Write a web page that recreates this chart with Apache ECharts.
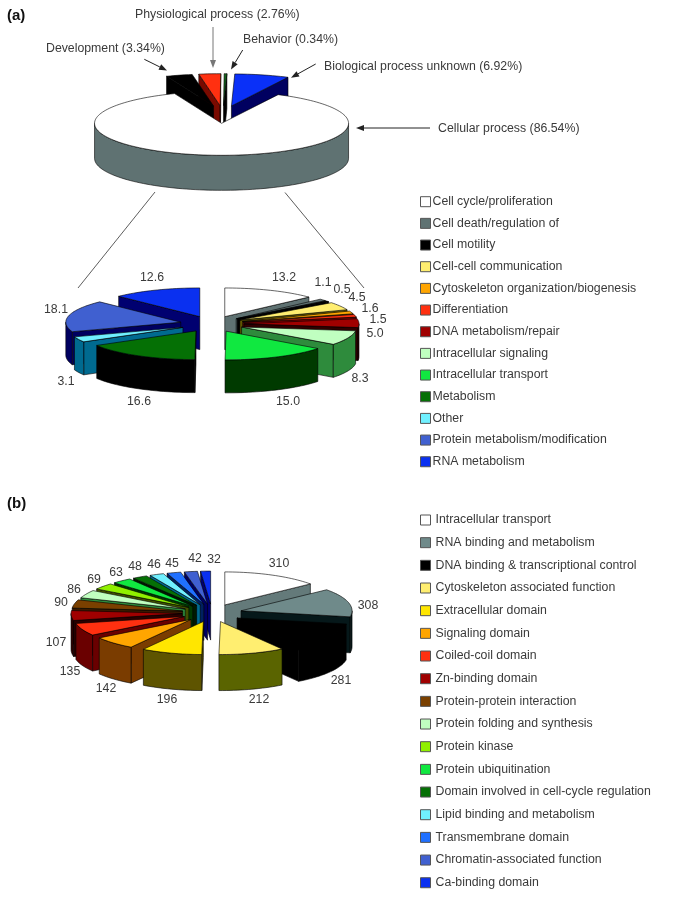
<!DOCTYPE html>
<html><head><meta charset="utf-8">
<style>html,body{margin:0;padding:0;background:#fff}#c{width:685px;height:897px}</style>
<script src="https://cdn.jsdelivr.net/npm/echarts@6/dist/echarts.min.js"></script>
</head><body><div id="c"></div>
<script>
// ---- data ----
const processNames = ['Biological process unknown','Cellular process','Development','Physiological process','Behavior'];
const processValues = [6.92,86.54,3.34,2.76,0.34];

const cellularNames = ['Cell cycle/proliferation','Cell death/regulation of','Cell motility','Cell-cell communication','Cytoskeleton organization/biogenesis','Differentiation','DNA metabolism/repair','Intracellular signaling','Intracellular transport','Metabolism','Other','Protein metabolism/modification','RNA metabolism'];
const cellularValues = [13.2,1.1,0.5,4.5,1.6,1.5,5.0,8.3,15.0,16.6,3.1,18.1,12.6];

const domainNames = ['Intracellular transport','RNA binding and metabolism','DNA binding & transcriptional control','Cytoskeleton associated function','Extracellular domain','Signaling domain','Coiled-coil domain','Zn-binding domain','Protein-protein interaction','Protein folding and synthesis','Protein kinase','Protein ubiquitination','Domain involved in cell-cycle regulation','Lipid binding and metabolism','Transmembrane domain','Chromatin-associated function','Ca-binding domain'];
const domainValues = [310,308,281,212,196,142,135,107,90,86,69,63,48,46,45,42,32];

// ---- styles ----
const processTop = ['#0a30f8','#ffffff','#000000','#ff3010','#14661e'];
const processSide = ['#000060','#5f7272','#000000','#7a0a00','#000000'];
const cellularTop = ['#ffffff','#5f7272','#000000','#ffee70','#ffa500','#ff3010','#a00000','#c0ffc0','#10e840','#057005','#70f0ff','#4060d0','#0a30f0'];
const cellularSide = ['#5f7272','#55686a','#000000','#6a6000','#7a4000','#800000','#300000','#2e8b3c','#003a00','#000000','#006a90','#000060','#000070'];
const domainTop = ['#ffffff','#6f8a8a','#000000','#ffee70','#ffe600','#ffa500','#ff3010','#a00000','#7a4000','#c0ffc0','#90f000','#10e840','#057005','#70f0ff','#2070ff','#4060d0','#0a30f0'];
const domainSide = ['#647a7a','#06181a','#000000','#5a6400','#5e5400','#7a3c00','#6a0000','#2a0000','#3a1a00','#2e8b3c','#405000','#003a00','#001a00','#006a90','#002060','#000060','#000070'];

// label anchors (text only, pixels)
const cellularLabelAt = [[284,278],[323,283],[342,290],[357,298],[370,309],[378,320],[375,334],[360,379],[288,402],[139,402],[66,382],[56,310],[152,278]];
const domainLabelAt = [[279,564],[368,606],[341,681],[259,700],[167,700],[106,689],[70,672],[56,643],[61,603],[74,590],[94,580],[116,573],[135,567],[154,565],[172,564],[195,559],[214,560]];

const pies = {
  process: {cx:223,cy:114.5,rx:127,ry:32,depth:35,explode:35,start:1.5,values:processValues,names:processNames,top:processTop,side:processSide},
  cellular:{cx:212,cy:324,rx:115,ry:28.7,depth:33,explode:32,start:0,values:cellularValues,names:cellularNames,top:cellularTop,side:cellularSide,labelAt:cellularLabelAt},
  domain:  {cx:212,cy:613,rx:111,ry:33,depth:36,explode:30,start:0,values:domainValues,names:domainNames,top:domainTop,side:domainSide,labelAt:domainLabelAt}
};
const INK = '#000', TXT = '#3a3a3a', FONT = '"Liberation Sans",Arial,sans-serif', SIZE = 12.3;
const rad = d => d*Math.PI/180;

function angleOf(pie, cum){
  const total = pie.values.reduce((a,b)=>a+b,0);
  return pie.start + 360*cum/total;
}
function sliceChildren(pie, i, value){
  let before = 0; for(let k=0;k<i;k++) before += pie.values[k];
  const a0 = angleOf(pie,before), a1 = angleOf(pie,before+value), mid=(a0+a1)/2;
  const ax = pie.cx + pie.explode*Math.sin(rad(mid));
  const ay = pie.cy - pie.explode*Math.cos(rad(mid))*pie.ry/pie.rx;
  const P = (a,d=0)=>[ax+pie.rx*Math.sin(rad(a)), ay-pie.ry*Math.cos(rad(a))+d];
  const arc = (s,e,d=0)=>{const n=Math.max(2,Math.ceil(Math.abs(e-s)/2));const o=[];for(let j=0;j<=n;j++)o.push(P(s+(e-s)*j/n,d));return o;};
  const poly=(pts,fill)=>({type:'polygon',shape:{points:pts},style:{fill,stroke:INK,lineWidth:0.6}});
  const kids=[], side=pie.side[i], dep=pie.depth;
  const cut=a=>poly([[ax,ay],P(a),P(a,dep),[ax,ay+dep]],side);
  if(Math.sin(rad(a0))<0) kids.push(cut(a0));
  if(Math.sin(rad(a1))>0) kids.push(cut(a1));
  const w0=Math.max(a0,90), w1=Math.min(a1,270);
  if(w1>w0) kids.push(poly(arc(w0,w1).concat(arc(w0,w1,dep).reverse()),side));
  kids.push(poly([[ax,ay]].concat(arc(a0,a1)),pie.top[i]));
  if(pie.labelAt){
    const L=pie.labelAt[i];
    kids.push({type:'text',style:{x:L[0],y:L[1],text:String(pie.values[i].toFixed(pie===pies.cellular?1:0)),fill:TXT,font:SIZE+'px '+FONT,align:'center',verticalAlign:'middle'}});
  }
  return kids;
}
function mids(pie){
  let c=0;return pie.values.map(v=>{const m=(angleOf(pie,c)+angleOf(pie,c+v))/2;c+=v;return m;});
}
const series=[];
Object.keys(pies).forEach(key=>{
  const pie=pies[key], m=mids(pie);
  const order=pie.values.map((_,i)=>i).sort((a,b)=>Math.cos(rad(m[b]))-Math.cos(rad(m[a])));
  order.forEach((i,rank)=>{
    series.push({type:'custom',name:pie.names[i],coordinateSystem:'none',silent:true,z:2+rank,animation:false,
      data:[[pie.values[i]]],
      itemStyle:{color:pie.top[i]},
      renderItem:(params,api)=>({type:'group',children:sliceChildren(pie,i,api.value(0))})});
  });
});

function legendFor(pie,top,gap,shift){
  return {show:true,orient:'vertical',left:420,top,padding:0,itemWidth:10,itemHeight:10,itemGap:gap,selectedMode:false,icon:'rect',
    textStyle:{color:TXT,fontFamily:FONT,fontSize:SIZE,lineHeight:14,padding:[0,0,0,shift]},
    data:pie.names.map((n,i)=>({name:n,icon:'rect',itemStyle:{color:pie.top[i],borderColor:'#555',borderWidth:1}}))};
}
// annotations
function arrow(x1,y1,x2,y2,color){
  const t=Math.atan2(y2-y1,x2-x1),h=8,w=3;
  const bx=x2-h*Math.cos(t),by=y2-h*Math.sin(t);
  return [
    {type:'line',silent:true,shape:{x1,y1,x2:bx,y2:by},style:{stroke:color,lineWidth:1}},
    {type:'polygon',silent:true,shape:{points:[[x2,y2],[bx-w*Math.sin(t),by+w*Math.cos(t)],[bx+w*Math.sin(t),by-w*Math.cos(t)]]},style:{fill:color}}
  ];
}
const text=(x,y,t,extra)=>({type:'text',silent:true,x,y,style:Object.assign({text:t,fill:TXT,font:SIZE+'px '+FONT,align:'left',verticalAlign:'middle'},extra||{})});
const anno=i=>processNames[i]+' ('+processValues[i].toFixed(2)+'%)';
const graphic=[
  text(7,16,'(a)',{font:'bold 15px '+FONT,fill:'#111'}),
  text(7,504,'(b)',{font:'bold 15px '+FONT,fill:'#111'}),
  text(135,15,anno(3)),text(243,40,anno(4)),text(46,49,anno(2)),text(324,67,anno(0)),text(438,129,anno(1)),
  ...arrow(213,27,213,68,'#777'),
  ...arrow(242.7,50,231,69.5,'#222'),
  ...arrow(144.3,59.3,167,70.5,'#222'),
  ...arrow(315.7,64,291,77.7,'#222'),
  ...arrow(430,128,356,128,'#222'),
  {type:'line',silent:true,shape:{x1:155,y1:192,x2:78,y2:288},style:{stroke:'#333',lineWidth:0.8}},
  {type:'line',silent:true,shape:{x1:285,y1:192.5,x2:364,y2:288},style:{stroke:'#333',lineWidth:0.8}}
];

const chart=echarts.init(document.getElementById('c'),null,{renderer:'canvas'});
chart.setOption({animation:false,backgroundColor:'#fff',
  legend:[legendFor(pies.cellular,194.7,7.67,-3),legendFor(pies.domain,513,8.67,0)],
  series,graphic:{elements:graphic}});
</script></body></html>
